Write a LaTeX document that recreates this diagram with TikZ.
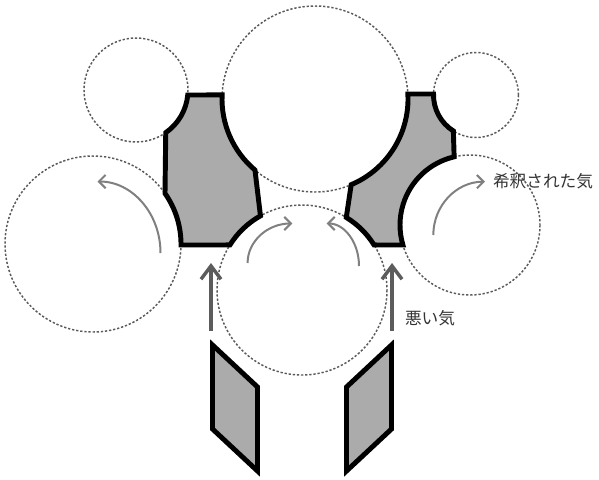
\documentclass[tikz,border=0pt]{standalone}
\usepackage{fontspec}
\newfontfamily\jp{Noto Sans CJK JP}
\usetikzlibrary{calc,arrows.meta}
\definecolor{dotgray}{HTML}{5A5A5A}
\definecolor{fillgray}{HTML}{ABABAB}
\definecolor{arrgray}{HTML}{808080}
\definecolor{uparr}{HTML}{5C5C5C}
\definecolor{txtgray}{HTML}{333333}
\tikzset{
  dotcirc/.style={draw=dotgray,line width=1.1pt,dash pattern=on 1.7pt off 1.4pt},
  solidpart/.style={draw=black,fill=fillgray,line width=3.7pt,line join=miter},
  curvarr/.style={draw=arrgray,line width=1.5pt,-{Straight Barb[length=5pt,width=10pt]}},
  uparrow/.style={draw=uparr,line width=3pt,-{Straight Barb[length=10pt,width=15pt,line width=2.6pt]}},
  lbl/.style={text=txtgray,font=\jp\fontsize{12.5pt}{15pt}\selectfont,inner sep=0pt}
}
\begin{document}
\begin{tikzpicture}[x=0.75pt,y=-0.75pt]
\useasboundingbox (0,0) rectangle (599,479);
% circle centres
\coordinate (A) at (136,90);
\coordinate (B) at (93,244);
\coordinate (T) at (315,99);
\coordinate (D) at (476,95);
\coordinate (E) at (470,225);
\coordinate (F) at (302,290);
% dotted circles
\draw[dotcirc] (A) circle[radius=52];
\draw[dotcirc] (B) circle[radius=88];
\draw[dotcirc] (T) circle[radius=93];
\draw[dotcirc] (D) circle[radius=42.5];
\draw[dotcirc] (E) circle[radius=70];
\draw[dotcirc] (F) circle[radius=85];
% left solid part
\path[solidpart] ($(A)+(5.5:52)$) -- ($(T)+(182.5:93)$)
  arc[start angle=182.5,end angle=130.2,radius=93]
  -- ($(F)+(240.75:85)$)
  arc[start angle=240.75,end angle=212,radius=85]
  -- ($(B)+(0.65:88)$)
  arc[start angle=0.65,end angle=-35.1,radius=88]
  -- ($(A)+(55.1:52)$)
  arc[start angle=55.1,end angle=5.5,radius=52] -- cycle;
% right solid part
\path[solidpart] ($(T)+(-3.08:93)$) -- ($(D)+(181.35:42.5)$)
  arc[start angle=181.35,end angle=122.2,radius=42.5]
  -- ($(E)+(256.9:70)$)
  arc[start angle=256.9,end angle=163.4,radius=70]
  -- ($(F)+(-32:85)$)
  arc[start angle=-32,end angle=-58.6,radius=85]
  -- ($(T)+(67.1:93)$)
  arc[start angle=67.1,end angle=-3.08,radius=93] -- cycle;
% lower parallelograms
\path[solidpart] (212.5,345) -- (257.5,387) -- (257.5,471) -- (212.5,429) -- cycle;
\path[solidpart] (391.5,345) -- (346.5,387) -- (346.5,471) -- (391.5,429) -- cycle;
% straight up arrows
\coordinate (ul0) at (211,331); \coordinate (ul1) at (211,263);
\coordinate (ur0) at (392,331); \coordinate (ur1) at (392,263);
\draw[uparrow] (ul0) -- (ul1);
\draw[uparrow] (ur0) -- (ur1);
% curved arrows
\coordinate (c1) at (160.5,253);
\draw[curvarr] (c1) arc[start angle=0,end angle=-90,x radius=63,y radius=71.5];
\coordinate (c2) at (247.6,263);
\draw[curvarr] (c2) arc[start angle=180,end angle=270,x radius=44.7,y radius=39.5];
\coordinate (c3) at (359,266);
\draw[curvarr] (c3) arc[start angle=0,end angle=-90,x radius=32.3,y radius=42.5];
\coordinate (c4) at (433.3,235);
\draw[curvarr] (c4) arc[start angle=180,end angle=270,x radius=51.7,y radius=53.3];
% labels
\node[lbl] (dil) at (543,181) {希釈された気};
\node[lbl] (bad) at (430,318) {悪い気};
\end{tikzpicture}
\end{document}
